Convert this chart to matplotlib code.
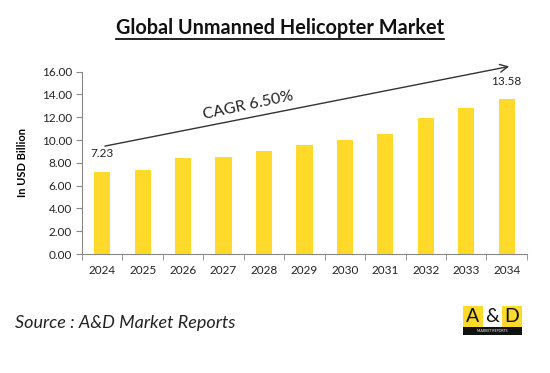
import matplotlib
matplotlib.use("Agg")
import matplotlib.pyplot as plt
from matplotlib.lines import Line2D
from matplotlib.patches import Rectangle

years = ["2024", "2025", "2026", "2027", "2028", "2029", "2030", "2031", "2032", "2033", "2034"]
values = [7.23, 7.40, 8.45, 8.53, 9.06, 9.55, 10.02, 10.52, 11.92, 12.77, 13.58]
yticks = [0, 2, 4, 6, 8, 10, 12, 14, 16]
title = "Global Unmanned Helicopter Market"
ylabel = "In USD Billion"
cagr_label = "CAGR 6.50%"
source = "Source : A&D Market Reports"

plt.rcParams['font.family'] = ['Lato', 'DejaVu Sans']

fig = plt.figure(figsize=(5.5, 3.73), dpi=100)
ax = fig.add_axes([0.149, 0.319, 0.809, 0.489])

x = list(range(len(years)))
ax.bar(x, values, width=0.4, color="#FFDA2B", zorder=2)
ax.set_xlim(-0.5, len(years) - 0.5)
ax.set_ylim(0, 16)
ax.set_yticks(yticks)
ax.set_yticklabels([f"{v:.2f}" for v in yticks], fontsize=8.5, color="#222222")
ax.set_xticks(x)
ax.set_xticklabels(years, fontsize=8.5, color="#222222")
ax.set_xticks([i - 0.5 for i in range(len(years) + 1)], minor=True)
ax.tick_params(axis='x', which='major', length=0, pad=8)
ax.tick_params(axis='x', which='minor', length=4, color="#888888", direction='out')
ax.tick_params(axis='y', length=4, color="#888888", direction='out', pad=3)
for s in ['top', 'right']:
    ax.spines[s].set_visible(False)
for s in ['left', 'bottom']:
    ax.spines[s].set_color("#888888")
    ax.spines[s].set_linewidth(0.8)

ax.set_ylabel(ylabel, fontsize=8, fontweight='bold', labelpad=10)

# data labels on first and last bars
ax.text(x[0], values[0] + 1.1, f"{values[0]:.2f}", ha='center', va='bottom', fontsize=8.5, color="#222222")
ax.text(x[-1], values[-1] + 1.1, f"{values[-1]:.2f}", ha='center', va='bottom', fontsize=8.5, color="#222222")

# CAGR arrow
ax.annotate("", xy=(10.13, 16.5), xytext=(0.0, 9.42),
            arrowprops=dict(arrowstyle='->', color="#333333", lw=1.0, mutation_scale=14),
            annotation_clip=False)
ax.text(3.6, 13.0, cagr_label, rotation=12, ha='center', va='center', fontsize=11.5, color="#222222")

# title with underline
t = fig.text(0.509, 0.925, title, ha='center', va='center', fontsize=14.3, fontweight='bold', color="#111111")
fig.canvas.draw()
bb = t.get_window_extent().transformed(fig.transFigure.inverted())
fig.add_artist(Line2D([bb.x0, bb.x1], [bb.y0 - 0.004, bb.y0 - 0.004], color="#111111", lw=1.3))

# source
fig.text(0.027, 0.133, source, ha='left', va='center', fontsize=13, style='italic', color="#222222")

# logo
lx0, ly0 = 463 / 550, 1 - 335 / 373
w = (522 - 463) / 550
h_top = (327 - 306) / 373
h_bot = (335 - 327) / 373
fig.add_artist(Rectangle((lx0, ly0 + h_bot), w, h_top, facecolor="#FFDA2B", edgecolor='none'))
fig.add_artist(Rectangle((lx0 + w * 0.34, ly0 + h_bot), w * 0.32, h_top, facecolor="white", edgecolor='none'))
fig.add_artist(Rectangle((lx0, ly0), w, h_bot, facecolor="#111111", edgecolor='none'))
cy = ly0 + h_bot + h_top / 2
for frac, ch in [(0.17, "A"), (0.5, "&"), (0.83, "D")]:
    fig.text(lx0 + w * frac, cy, ch, ha='center', va='center', fontsize=14, color="#111111")
fig.text(lx0 + w / 2, ly0 + h_bot / 2, "MARKET REPORTS", ha='center', va='center', fontsize=2.5, color="white")

fig.savefig("out.png", dpi=100, facecolor="white")
